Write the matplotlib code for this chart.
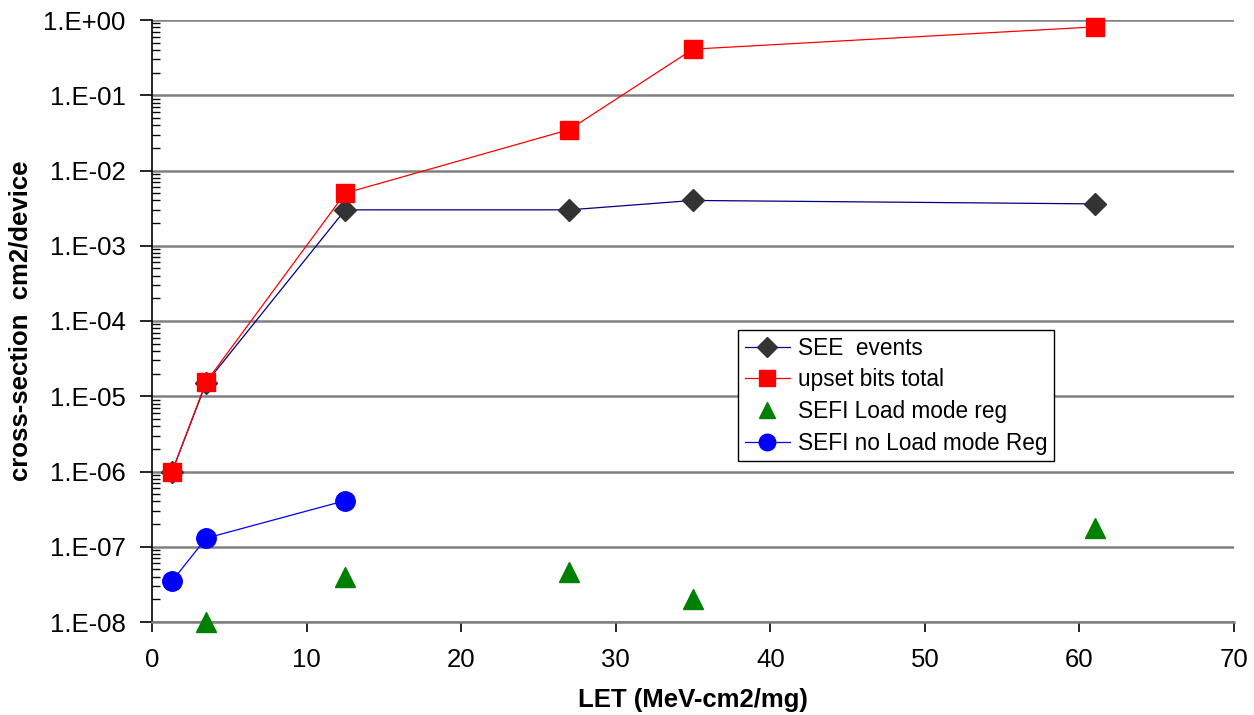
import numpy as np
import matplotlib
matplotlib.use("Agg")
import matplotlib.pyplot as plt
from matplotlib.ticker import FixedLocator, FuncFormatter, LogLocator, NullFormatter

plt.rcParams['font.family'] = ['Liberation Sans', 'DejaVu Sans']

# LET values (MeV-cm2/mg)
let_see = [1.3, 3.5, 12.5, 27, 35, 61]
see_events = [1.0e-6, 1.5e-5, 3.0e-3, 3.0e-3, 4.0e-3, 3.6e-3]

let_upset = [1.3, 3.5, 12.5, 27, 35, 61]
upset_bits = [1.0e-6, 1.55e-5, 5.0e-3, 3.5e-2, 0.41, 0.81]

let_sefi_load = [3.5, 12.5, 27, 35, 61]
sefi_load = [1.0e-8, 4.0e-8, 4.6e-8, 2.0e-8, 1.8e-7]

let_sefi_noload = [1.3, 3.5, 12.5]
sefi_noload = [3.5e-8, 1.3e-7, 4.1e-7]

fig = plt.figure(figsize=(12.54, 7.15), dpi=100)
ax = fig.add_axes([152 / 1254, 1 - 622 / 715, (1234 - 152) / 1254, (622 - 20) / 715])

ax.plot(let_see, see_events, color='#000080', lw=0.9, marker='D', ms=11.5,
        mfc='#333333', mec='#333333', label='SEE  events', zorder=3, clip_on=False)
ax.plot(let_upset, upset_bits, color='red', lw=0.9, marker='s', ms=13.5,
        mfc='red', mec='red', label='upset bits total', zorder=4, clip_on=False)
ax.plot(let_sefi_load, sefi_load, ls='none', marker='^', ms=14,
        mfc='green', mec='green', label='SEFI Load mode reg', zorder=3, clip_on=False)
ax.plot(let_sefi_noload, sefi_noload, color='blue', lw=0.9, marker='o', ms=14,
        mfc='blue', mec='blue', label='SEFI no Load mode Reg', zorder=3, clip_on=False)

ax.set_yscale('log')
ax.set_ylim(1e-8, 1.0)
ax.set_xlim(0, 70)
ax.set_xticks(np.arange(0, 71, 10))
ax.yaxis.set_major_locator(FixedLocator([10.0 ** k for k in range(-8, 1)]))
ax.yaxis.set_minor_locator(LogLocator(base=10, subs=np.arange(2, 10), numticks=20))
ax.yaxis.set_minor_formatter(NullFormatter())
ax.yaxis.set_major_formatter(FuncFormatter(lambda v, p: '1.E%+03d' % int(round(np.log10(v)))))

ax.grid(axis='y', which='major', color='#808080', lw=1.8)
ax.set_axisbelow(True)

for s in ['top', 'right']:
    ax.spines[s].set_visible(False)
ax.spines['left'].set_color('black')
ax.spines['left'].set_linewidth(1.2)
ax.spines['bottom'].set_color('#808080')
ax.spines['bottom'].set_linewidth(1.8)

ax.tick_params(axis='y', which='major', direction='out', length=9, width=1.2, labelsize=18.5, pad=10)
ax.tick_params(axis='y', which='minor', direction='in', length=6, width=1.0)
ax.tick_params(axis='x', which='major', direction='out', length=7, width=1.2, labelsize=18.5, pad=12)

ax.set_xlabel('LET (MeV-cm2/mg)', fontsize=18.5, fontweight='bold', labelpad=11)
ax.set_ylabel('cross-section  cm2/device', fontsize=18.5, fontweight='bold', labelpad=8)

leg = ax.legend(loc='upper left', bbox_to_anchor=((738 - 152) / 1082, 1 - (330 - 20) / 602),
                fontsize=16.3, frameon=True, fancybox=False, edgecolor='black',
                handlelength=2.0, borderpad=0.3, labelspacing=0.38, handletextpad=0.35,
                borderaxespad=0, markerscale=0.85)
leg.get_frame().set_linewidth(1.0)
leg.get_frame().set_alpha(1)

fig.savefig('out.png', dpi=100)
